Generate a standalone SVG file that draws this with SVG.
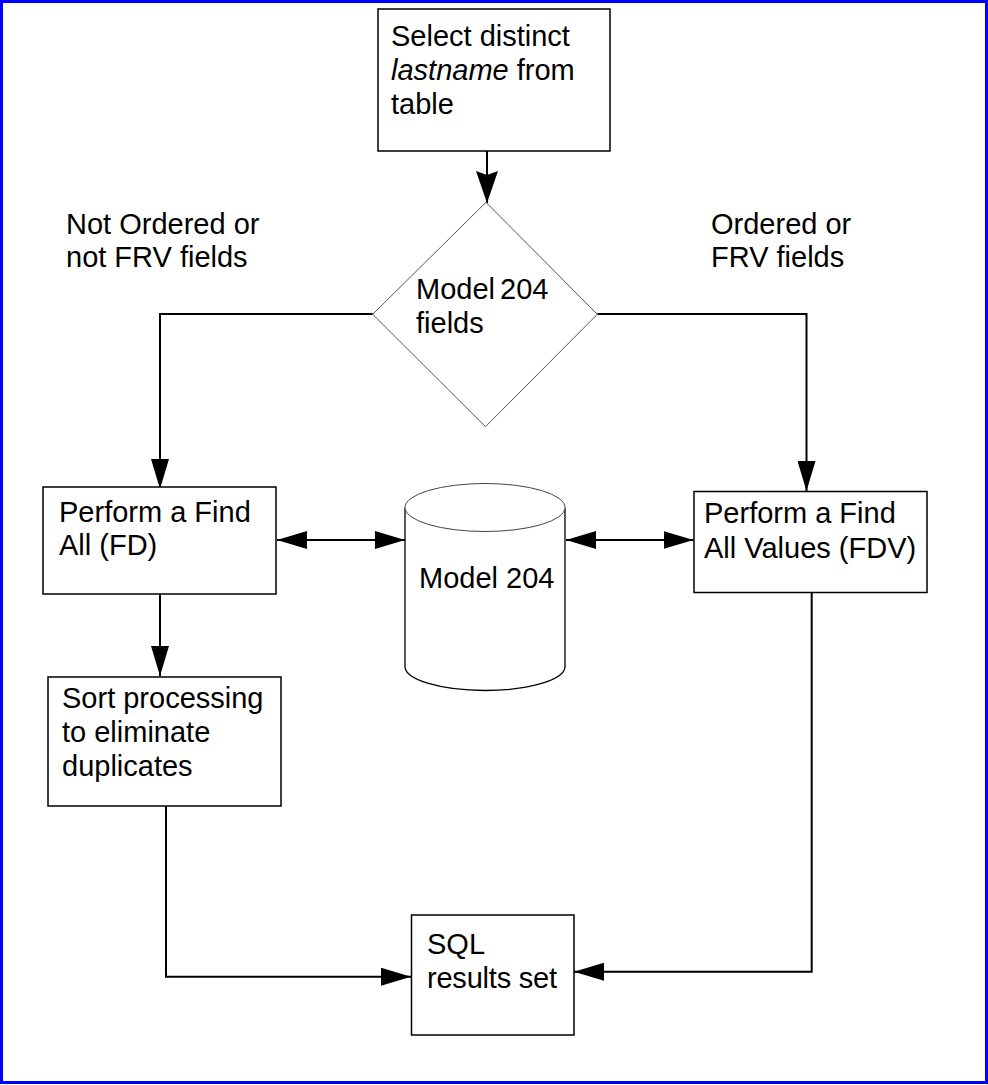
<svg xmlns="http://www.w3.org/2000/svg" width="988" height="1085" viewBox="0 0 988 1085">
<style>
text{font-family:"Liberation Sans",Arial,sans-serif;font-size:29px;fill:#000}
.box{fill:#fff;stroke:#000;stroke-width:1.5}
.conn{fill:none;stroke:#000;stroke-width:2}
.thin{fill:#fff;stroke:#555;stroke-width:1}
</style>
<defs>
<marker id="ah" viewBox="0 0 30 18" refX="30" refY="9" markerWidth="30" markerHeight="18" markerUnits="userSpaceOnUse" orient="auto-start-reverse">
<path d="M0,0 L30,9 L0,18 z" fill="#000"/>
</marker>
<marker id="ahb" viewBox="0 0 32 22" refX="32" refY="11" markerWidth="32" markerHeight="22" markerUnits="userSpaceOnUse" orient="auto">
<path d="M0,0 L32,11 L0,22 L4,11 z" fill="#000"/>
</marker>
</defs>
<rect x="1.5" y="1.5" width="985" height="1081" fill="#fff" stroke="#0000ff" stroke-width="3"/>

<g id="connectors">
<path class="conn" d="M487,151 V203" marker-end="url(#ahb)"/>
<path class="conn" d="M372.7,314 H160 V489" marker-end="url(#ah)"/>
<path class="conn" d="M597.3,314 H806.5 V491" marker-end="url(#ah)"/>
<path class="conn" d="M277,540 H405" marker-start="url(#ah)" marker-end="url(#ah)"/>
<path class="conn" d="M566,540 H693.5" marker-start="url(#ah)" marker-end="url(#ah)"/>
<path class="conn" d="M160,594 V676" marker-end="url(#ah)"/>
<path class="conn" d="M166,806 V976.7 H411" marker-end="url(#ah)"/>
<path class="conn" d="M811.7,592 V971.7 H574" marker-end="url(#ah)"/>
</g>

<g id="select">
<rect class="box" x="378" y="9" width="232" height="142"/>
<text x="391" y="46">Select distinct</text>
<text x="391" y="80"><tspan font-style="italic">lastname</tspan> from</text>
<text x="391" y="114">table</text>
</g>

<g id="decision">
<polygon class="thin" points="486,202.3 597.3,314.3 485.5,426.7 372.7,314.3"/>
<text x="416" y="299" word-spacing="-3">Model 204</text>
<text x="416" y="333">fields</text>
</g>

<g id="label-left">
<text x="66" y="234">Not Ordered or</text>
<text x="66" y="267">not FRV fields</text>
</g>

<g id="label-right">
<text x="711" y="234">Ordered or</text>
<text x="711" y="267">FRV fields</text>
</g>

<g id="find-all">
<rect class="box" x="43" y="487" width="233" height="107"/>
<text x="59" y="522">Perform a Find</text>
<text x="59" y="555">All (FD)</text>
</g>

<g id="database">
<path d="M405,507.5 V666.5 A80,24 0 0 0 565,666.5 V507.5" fill="#fff" stroke="#000" stroke-width="1.3"/>
<ellipse cx="485" cy="507.5" rx="80" ry="24" fill="#fff" stroke="#444" stroke-width="1"/>
<text x="419" y="588">Model 204</text>
</g>

<g id="find-values">
<rect class="box" x="694" y="491.5" width="233" height="101"/>
<text x="704" y="523">Perform a Find</text>
<text x="704" y="558">All Values (FDV)</text>
</g>

<g id="sort">
<rect class="box" x="48" y="677" width="233" height="129"/>
<text x="62" y="708">Sort processing</text>
<text x="62" y="742">to eliminate</text>
<text x="62" y="776">duplicates</text>
</g>

<g id="results">
<rect class="box" x="411.5" y="915" width="162.5" height="120" stroke-width="2"/>
<text x="427" y="954">SQL</text>
<text x="427" y="988" textLength="130">results set</text>
</g>
</svg>
